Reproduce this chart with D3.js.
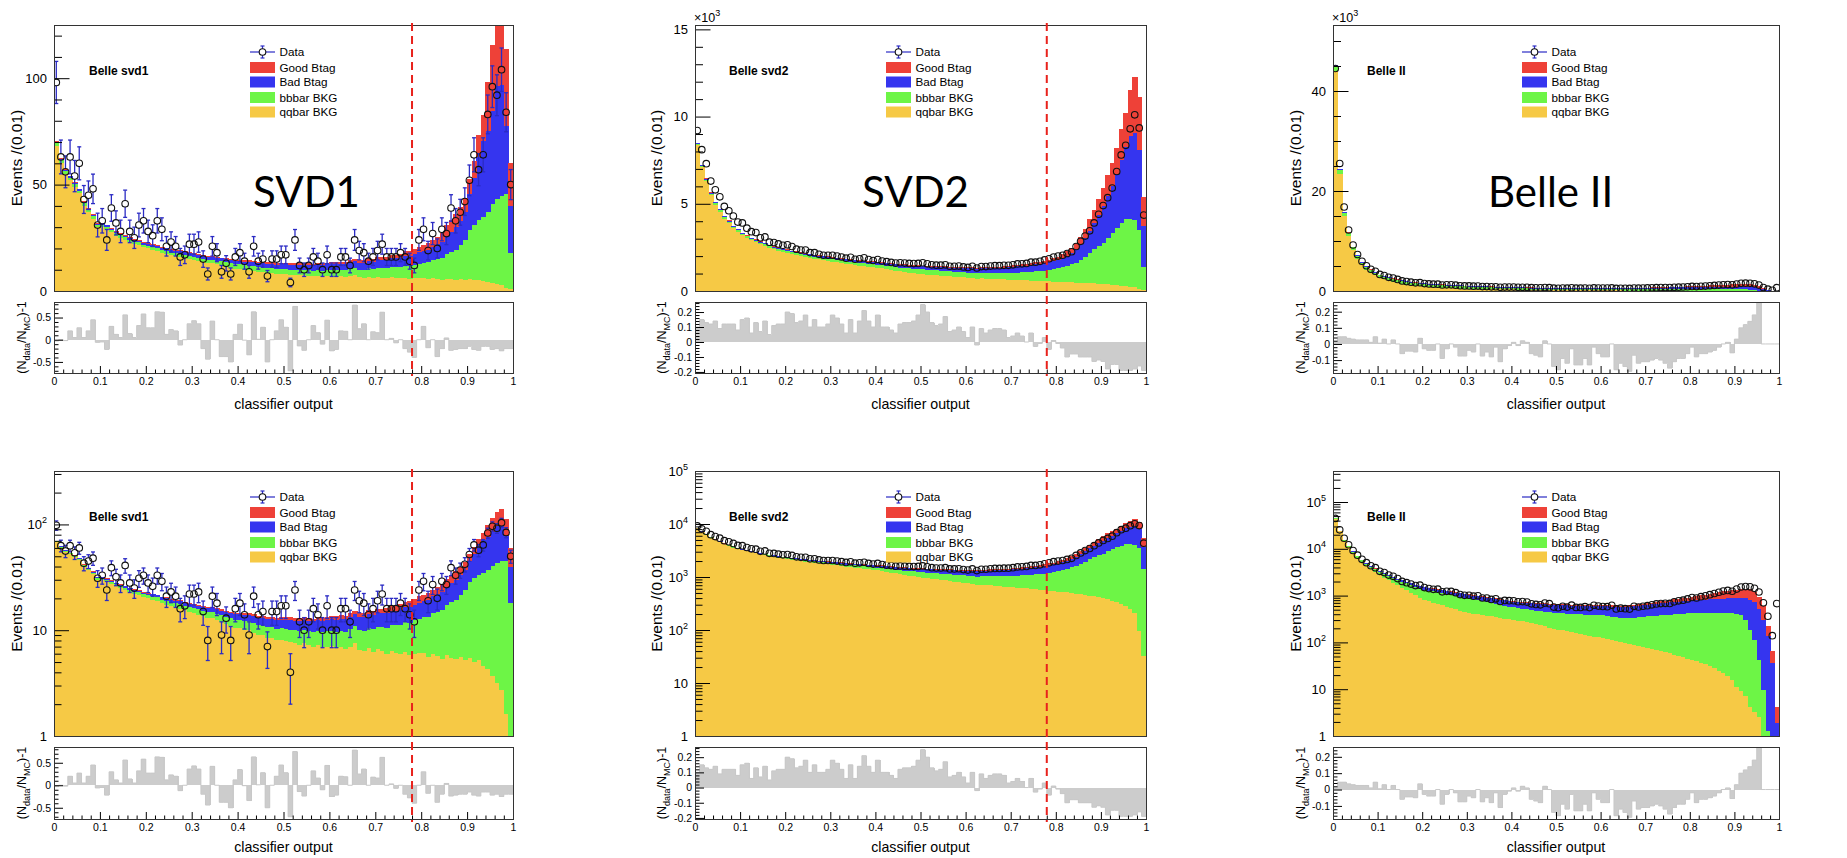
<!DOCTYPE html>
<html><head><meta charset="utf-8">
<script src="https://cdn.jsdelivr.net/npm/d3@7"></script>
<style>
body{margin:0;background:#fff}
svg{display:block}
text{font-family:"Liberation Sans",Arial,Helvetica,sans-serif;fill:#000}
</style>
</head><body>
<svg id="c" width="1847" height="858"></svg>
<script>
// ---------------- DATA ----------------
// bins: 100 bins of width 0.01 on classifier output [0,1]
const binLow = d3.range(100).map(i => i / 100);
const xTickValues = [0,0.1,0.2,0.3,0.4,0.5,0.6,0.7,0.8,0.9,1];
const cutValue = 0.78;
const legendLabels = ["Data","Good Btag","Bad Btag","bbbar BKG","qqbar BKG"];

// ---- Belle svd1 ----
const qq1 = [68,60,55,52,49,46,40,37,34,30,
30,29,27.5,26,25,24,23,22,21.5,20.5,
20,19.5,19,18,17.5,17,16.5,16,15.5,15,
14.5,14,13.5,13,13,12.5,12,11.5,11,10.5,
10.5,10,10,9.5,9,9,8.5,8.5,8,8,
7.9,7.7,7.5,7.3,7.5,7.2,7.0,7.2,6.9,7.0,
7.1,6.8,6.9,6.6,7.0,7.6,6.5,6.3,6.8,6.2,
6.6,6.3,6.0,6.4,6.1,5.9,6.2,5.8,6.0,6.1,
6.1,5.6,5.9,5.7,5.4,5.8,5.5,5.3,5.6,5.2,
5.5,5.0,5.2,4.6,4.3,3.7,3.2,2.7,1.6,1.0];
const bb1 = [1.5,1.4,1.3,1.3,1.2,1.2,1.2,1.1,1.1,1.1,
1.1,1.1,1.1,1.1,1.2,1.2,1.2,1.2,1.3,1.3,
1.3,1.4,1.4,1.4,1.5,1.5,1.5,1.6,1.6,1.6,
1.7,1.7,1.7,1.8,1.8,1.8,1.9,1.9,2.0,2.0,
2.0,2.1,2.1,2.2,2.2,2.2,2.3,2.3,2.3,2.4,
2.4,2.4,2.5,2.5,2.5,2.6,2.6,2.7,2.7,2.8,
2.8,2.9,3.0,3.1,3.2,3.3,3.5,3.6,3.8,4.0,
4.2,4.4,4.6,4.9,5.1,5.4,5.7,6.0,6.4,6.8,
7.2,7.8,8.5,9.3,10.2,11.5,12.8,14.2,16,19,
23,26,28,30,33,37,40,42,44,17];
const bad1 = [0.6,0.6,0.6,0.6,0.6,0.6,0.6,0.6,0.6,0.6,
0.7,0.7,0.7,0.7,0.7,0.8,0.8,0.8,0.8,0.8,
0.9,0.9,0.9,1.0,1.0,1.0,1.0,1.1,1.1,1.1,
1.2,1.2,1.2,1.3,1.3,1.4,1.4,1.5,1.5,1.6,
1.6,1.7,1.7,1.8,1.8,1.9,2.0,2.0,2.1,2.2,
2.2,2.3,2.3,2.4,2.4,2.5,2.5,2.6,2.7,2.7,
2.8,2.9,2.9,3.0,3.1,3.2,3.3,3.4,3.5,3.6,
3.7,3.8,3.9,4.0,4.1,4.3,4.5,4.7,4.9,5.2,
5.5,6.0,6.5,7.0,7.5,8.5,9.5,10.5,11.5,13,
17,22,30,36,38,44,53,52,32,22];
const good1 = [0.3,0.3,0.3,0.3,0.3,0.3,0.3,0.3,0.3,0.3,
0.3,0.3,0.3,0.3,0.3,0.3,0.3,0.3,0.3,0.3,
0.4,0.4,0.4,0.4,0.4,0.4,0.4,0.4,0.4,0.4,
0.4,0.4,0.4,0.4,0.4,0.4,0.4,0.4,0.4,0.4,
0.6,0.6,0.6,0.6,0.6,0.6,0.6,0.6,0.6,0.6,
0.8,0.8,0.8,0.8,0.8,0.8,0.8,0.8,0.8,0.8,
0.9,0.9,1.0,1.0,1.1,1.1,1.2,1.2,1.3,1.3,
1.4,1.5,1.6,1.7,1.8,2.0,2.2,2.4,2.6,2.8,
2.8,3.0,3.3,3.6,4.0,5.0,5.5,6.0,6.5,6.5,
7,8,10,12,23,31,34,42,36,20];
const data1 = [98,63,56,63,54,60,43,45,48,31,
33,24,39,32,28,41,28,25,31,33,
28,26,33,29,21,23,21,16,17,22,
22,23,15,8,21,18,9,13,8,16,
18,14,9,21,14,15,7,15,15,17,
17,4,24,12,10,12,16,14,10,17,
10,10,16,16,12,24,19,18,14,16,
19,22,16,16,16,18,16,14,12,24,
29,19,27,20,29,27,39,33,37,42,
52,64,57,64,83,96,92,104,84,50];
const ratio1 = [-0.03,0.0,-0.02,0.2,0.05,0.27,0.05,0.2,0.45,-0.06,
-0.05,-0.22,0.3,0.12,0.05,0.56,0.14,0.05,0.32,0.58,
0.27,0.27,0.63,0.62,0.12,0.23,0.2,-0.12,0.0,0.36,
0.43,0.36,-0.2,-0.44,0.42,0.0,-0.38,-0.38,-0.5,0.12,
0.35,-0.01,-0.34,0.63,0.01,0.28,-0.5,0.0,0.2,0.45,
0.28,-0.7,0.75,-0.14,-0.24,0.0,0.32,0.16,-0.1,0.44,
-0.25,-0.22,0.2,0.19,0.0,0.78,0.25,0.36,0.0,0.18,
0.16,0.62,0.0,0.03,-0.07,0.0,-0.2,-0.28,-0.4,0.0,
0.3,-0.18,0.0,-0.38,-0.2,0.04,-0.24,-0.22,-0.2,-0.2,
-0.15,-0.22,-0.24,-0.15,-0.15,-0.22,-0.2,-0.25,-0.2,-0.2];

// ---- Belle svd2 ----
const qq2 = [8350,7100,6300,5500,4950,4550,4150,3900,3600,3400,
3200,3050,2900,2800,2680,2580,2480,2400,2320,2250,
2180,2120,2060,2000,1950,1900,1850,1810,1770,1730,
1690,1650,1610,1570,1530,1490,1450,1420,1390,1360,
1330,1290,1250,1210,1170,1130,1100,1060,1030,1000,
970,940,920,900,880,860,840,820,800,780,
760,750,710,720,710,700,690,670,660,650,
640,630,620,610,600,590,570,560,550,540,
530,520,510,500,480,470,460,440,430,420,
400,380,360,340,310,280,250,210,95,32];
const bb2 = [80,80,80,80,80,80,80,80,80,80,
80,80,80,90,90,90,90,90,100,100,
100,100,110,110,110,120,120,120,130,130,
130,140,140,150,150,160,160,170,170,180,
180,190,190,200,210,210,220,230,240,250,
270,270,280,280,280,290,290,290,300,300,
300,310,310,320,330,340,350,360,370,390,
410,430,450,470,500,530,560,600,650,700,
760,830,920,1020,1150,1300,1500,1720,1950,2150,
2350,2650,2950,3300,3600,3850,3900,3850,3400,1360];
const bad2 = [50,50,50,50,50,50,50,50,50,50,
50,50,50,50,50,60,60,60,60,60,
70,70,70,70,80,80,80,80,90,90,
90,100,100,100,110,110,120,120,120,130,
130,140,140,150,150,160,160,170,170,180,
180,190,190,200,200,210,210,220,220,230,
240,240,250,260,270,280,290,300,310,320,
340,350,360,380,390,410,430,450,470,490,
500,550,600,680,780,920,1100,1300,1500,1800,
2100,2400,2700,3060,3600,4100,4720,4970,4580,2350];
const good2 = [20,20,20,20,20,20,20,20,20,20,
20,20,20,20,20,20,20,20,20,20,
30,30,30,30,30,30,30,30,30,30,
30,30,30,30,30,30,30,30,30,30,
40,40,40,40,40,40,40,40,40,40,
40,40,45,45,45,45,50,50,50,50,
50,50,60,60,60,70,70,70,80,80,
80,90,90,100,100,110,110,120,130,140,
180,210,240,280,340,420,520,640,780,920,
1050,1200,1350,1520,1750,2000,2660,3240,3020,1620];
const data2 = [9200,8100,7300,6300,5800,5400,4850,4600,4300,3950,
3900,3600,3400,3350,3050,3100,2800,2780,2700,2620,
2650,2550,2400,2350,2350,2200,2200,2100,2050,2050,
2050,2000,1950,1880,1930,1820,1850,1900,1800,1750,
1800,1720,1680,1640,1600,1620,1600,1580,1570,1580,
1620,1560,1500,1480,1480,1500,1420,1420,1430,1380,
1350,1420,1320,1400,1400,1430,1450,1450,1470,1470,
1500,1550,1560,1580,1650,1650,1700,1780,1850,1950,
2000,2050,2150,2250,2550,2850,3150,3450,3900,4400,
4900,5350,5900,6850,7800,8350,9300,10100,9350,4350];
const ratio2 = [0.1,0.15,0.13,0.12,0.14,0.09,0.12,0.12,0.12,0.08,
0.15,0.16,0.06,0.13,0.07,0.14,0.05,0.11,0.12,0.12,
0.2,0.19,0.13,0.14,0.18,0.1,0.15,0.1,0.1,0.12,
0.18,0.16,0.12,0.06,0.15,0.06,0.14,0.21,0.14,0.1,
0.18,0.1,0.1,0.08,0.06,0.12,0.13,0.13,0.14,0.18,
0.25,0.2,0.13,0.11,0.12,0.17,0.07,0.08,0.1,0.07,
0.03,0.1,-0.02,0.09,0.06,0.08,0.09,0.09,0.08,0.03,
0.04,0.06,0.04,0.0,0.06,-0.03,-0.01,0.03,-0.05,0.01,
-0.01,-0.04,-0.1,-0.08,-0.08,-0.1,-0.1,-0.1,-0.13,-0.12,
-0.13,-0.18,-0.15,-0.15,-0.19,-0.19,-0.19,-0.18,-0.16,-0.19];

// ---- Belle II ----
const qq3 = [44000,23500,15000,11000,8200,6500,5200,4300,3700,3200,
2700,2400,2120,1880,1660,1470,1300,1150,1020,910,
820,760,710,665,620,580,545,510,480,450,
424,410,397,383,370,358,346,335,322,312,
306,292,280,268,256,244,232,220,208,197,
187,180,172,165,158,152,145,139,133,128,
124,118,112,107,102,97,92,88,83,79,
75,71,68,65,62,58,55,52,48,45,
42,40,37,34,31,28,25,22,19,16,
11,9,7,4.2,3.2,2.6,0,0,0,0];
const bb3 = [900,700,600,560,530,510,500,490,480,470,
460,470,480,490,500,510,520,525,530,530,
530,525,520,515,510,500,490,480,470,460,
450,430,410,390,370,350,330,310,290,270,
255,245,240,238,236,236,236,236,237,237,
237,238,240,242,244,246,248,250,252,254,
256,250,245,240,236,233,240,250,260,272,
285,295,305,315,325,335,345,355,365,372,
378,382,386,390,393,396,398,400,401,401,
399,380,299,183,111,39,9.7,1.3,0,0];
const bad3 = [300,200,160,140,130,125,120,118,116,115,
115,118,120,125,130,135,140,145,150,155,
160,165,168,170,170,170,168,166,164,162,
160,160,162,164,166,168,170,172,175,178,
180,182,184,186,188,190,192,194,196,198,
200,202,204,206,208,210,212,214,216,218,
220,224,228,232,236,240,246,252,258,264,
270,280,290,300,310,320,330,340,350,360,
370,380,390,400,410,420,430,440,450,465,
480,520,580,636,600,480,296,134,36,1.9];
const good3 = [80,50,40,35,30,28,26,25,24,23,
22,22,22,22,22,22,22,22,22,22,
22,22,23,23,23,23,24,24,24,24,
25,25,25,25,25,26,26,26,26,26,
27,27,27,28,28,28,29,29,30,30,
31,31,32,32,33,33,34,34,35,35,
36,37,38,39,40,42,44,46,48,50,
55,60,66,72,80,88,96,105,115,125,
140,165,195,230,270,310,350,385,410,430,
450,480,510,530,500,425,284,86,28,2.3];
const data3 = [44500,25500,16800,12200,9200,7300,5950,5050,4350,3950,
3310,3100,2740,2580,2310,2010,1890,1760,1635,1675,
1485,1413,1364,1373,1204,1235,1227,1156,1053,1014,
1017,974,994,890,884,830,855,750,789,778,
776,739,746,727,666,649,634,693,671,569,
550,592,570,626,559,558,581,554,623,597,
585,579,623,519,540,526,516,591,571,592,
610,635,663,677,684,681,735,775,799,848,
911,890,948,991,1049,1108,1179,1247,1293,1240,
1380,1528,1563,1542,1433,1193,700,362,139,675];
const ratio3 = [0.01,0.045,0.045,0.035,0.03,0.025,0.025,0.025,0.01,0.045,
0.005,0.03,0.0,0.025,0.0,-0.06,-0.045,-0.045,-0.05,0.035,
-0.03,-0.04,-0.04,0.0,-0.09,-0.03,0.0,-0.02,-0.075,-0.075,
-0.04,-0.05,0.0,-0.075,-0.05,-0.08,-0.02,-0.11,-0.03,-0.01,
0.01,-0.01,0.02,0.01,-0.06,-0.07,-0.08,0.02,0.0,-0.14,
-0.16,-0.09,-0.12,-0.03,-0.13,-0.13,-0.09,-0.13,-0.02,-0.06,
-0.08,-0.08,0.0,-0.16,-0.12,-0.14,-0.17,-0.07,-0.12,-0.11,
-0.11,-0.1,-0.09,-0.1,-0.12,-0.15,-0.11,-0.09,-0.09,-0.06,
-0.02,-0.08,-0.06,-0.06,-0.05,-0.04,-0.02,0.0,0.01,-0.055,
0.03,0.1,0.12,0.14,0.18,0.26,0,0,0,0];

// tick values
const linMajor1 = [0,50,100], linMajor2 = [0,5000,10000,15000], linMajor3 = [0,20000,40000];
const ratMajor1 = [-0.5,0,0.5], ratMajor2 = [-0.2,-0.1,0,0.1,0.2], ratMajor3 = [-0.1,0,0.1,0.2];

// ---------------- LAYOUT / STYLE ----------------
const COLORS = {good:'#ee4138', bad:'#3535ef', bb:'#6df546', qq:'#f6c945'};
const ERR = '#2b2bc4';
const cols = [
  {x0:54, x1:513, leg:250, belle:89, big:253, ytx:21.5, rtx:26},
  {x0:695, x1:1146, leg:886, belle:729, big:862, ytx:661.5, rtx:666},
  {x0:1333, x1:1779, leg:1522, belle:1367, big:1488, ytx:1301, rtx:1305}
];
const rows = [
  {m0:25, m1:291, r0:302, r1:373, log:false},
  {m0:471, m1:736, r0:747, r1:819, log:true}
];
const sets = [
  {label:'Belle svd1', big:'SVD1', qq:qq1, bb:bb1, bad:bad1, good:good1, data:data1, ratio:ratio1, cut:true,
   linMax:125, linMajor:linMajor1, linMinor:d3.range(0,126,10), linFmt:d=>String(d), x10:false,
   logMax:320, rMin:-0.75, rMax:0.85, rMajor:ratMajor1, rMinor:d3.range(-0.7,0.85,0.1)},
  {label:'Belle svd2', big:'SVD2', qq:qq2, bb:bb2, bad:bad2, good:good2, data:data2, ratio:ratio2, cut:true,
   linMax:15250, linMajor:linMajor2, linMinor:d3.range(0,15300,1000), linFmt:d=>String(d/1000), x10:true,
   logMax:1e5, rMin:-0.207, rMax:0.267, rMajor:ratMajor2, rMinor:d3.range(-0.2,0.27,0.02)},
  {label:'Belle II', big:'Belle II', qq:qq3, bb:bb3, bad:bad3, good:good3, data:data3, ratio:ratio3, cut:false,
   linMax:53200, linMajor:linMajor3, linMinor:d3.range(0,53300,5000), linFmt:d=>String(d/1000), x10:true,
   logMax:4.6e5, rMin:-0.18, rMax:0.26, rMajor:ratMajor3, rMinor:d3.range(-0.18,0.27,0.02)}
];

const svg = d3.select('#c');
const defs = svg.append('defs');
let clipN = 0;
function clip(x, y, w, h) {
  const id = 'cp' + (clipN++);
  defs.append('clipPath').attr('id', id).append('rect').attr('x', x).attr('y', y).attr('width', w).attr('height', h);
  return `url(#${id})`;
}
function styleAxis(g, fs) {
  g.select('.domain').remove();
  g.selectAll('line').attr('stroke', '#000').attr('stroke-width', 1);
  g.selectAll('text').attr('font-size', fs).attr('fill', '#000')
    .attr('font-family', '"Liberation Sans",Arial,Helvetica,sans-serif');
}

function drawPanel(ds, c, r, showBig) {
  const x = d3.scaleLinear().domain([0, 1]).range([c.x0, c.x1]);
  const y = r.log
    ? d3.scaleLog().domain([1, ds.logMax]).range([r.m1, r.m0])
    : d3.scaleLinear().domain([0, ds.linMax]).range([r.m1, r.m0]);
  const ymin = y.domain()[0];
  const bw = x(0.01) - x(0);

  // stacked histograms
  const g = svg.append('g').attr('clip-path', clip(c.x0, r.m0, c.x1 - c.x0, r.m1 - r.m0));
  const table = binLow.map((b, i) => ({b, qq: ds.qq[i], bb: ds.bb[i], bad: ds.bad[i], good: ds.good[i]}));
  const series = d3.stack().keys(['qq', 'bb', 'bad', 'good'])(table);
  series.forEach(s => {
    g.append('g').attr('fill', COLORS[s.key]).attr('shape-rendering', 'crispEdges')
      .selectAll('rect').data(s.filter(d => d[1] > d[0] && d[1] > ymin)).join('rect')
      .attr('x', d => x(d.data.b)).attr('width', bw + 0.6)
      .attr('y', d => y(d[1]))
      .attr('height', d => y(Math.max(d[0], ymin)) - y(d[1]));
  });

  // data points with error bars
  const R = 3.3;
  const pts = binLow.map((b, i) => ({b, n: ds.data[i]})).filter(d => d.n > ymin);
  const eg = g.append('g').attr('stroke', ERR).attr('stroke-width', 1.3).attr('fill', 'none');
  pts.forEach(d => {
    const cx = x(d.b + 0.005), cy = y(d.n);
    const e = Math.sqrt(d.n);
    const yl = y(Math.max(d.n - e, ymin)), yh = y(d.n + e);
    if (yl - cy > R + 0.5) {
      eg.append('line').attr('x1', cx).attr('x2', cx).attr('y1', cy + R).attr('y2', yl);
      eg.append('line').attr('x1', cx - 2).attr('x2', cx + 2).attr('y1', yl).attr('y2', yl);
    }
    if (cy - yh > R + 0.5) {
      eg.append('line').attr('x1', cx).attr('x2', cx).attr('y1', cy - R).attr('y2', yh);
      eg.append('line').attr('x1', cx - 2).attr('x2', cx + 2).attr('y1', yh).attr('y2', yh);
    }
  });
  g.append('g').selectAll('circle').data(pts).join('circle')
    .attr('cx', d => x(d.b + 0.005)).attr('cy', d => y(d.n)).attr('r', R)
    .attr('fill', 'none').attr('stroke', '#111').attr('stroke-width', 1.1);

  // y axis
  if (r.log) {
    const ticks = y.ticks();
    const major = ticks.filter(t => Math.abs(Math.log10(t) - Math.round(Math.log10(t))) < 1e-9);
    const minor = ticks.filter(t => !major.includes(t));
    const ga = svg.append('g').attr('transform', `translate(${c.x0},0)`)
      .call(d3.axisLeft(y).tickValues(major).tickSize(-15).tickPadding(7));
    styleAxis(ga, 13);
    ga.selectAll('text').each(function(d) {
      const k = Math.round(Math.log10(d));
      const t = d3.select(this);
      if (k === 0) t.text('1');
      else if (k === 1) t.text('10');
      else {
        t.text('');
        t.append('tspan').text('10');
        t.append('tspan').attr('dy', -6).attr('font-size', 9).text(String(k));
      }
    });
    const gm = svg.append('g').attr('transform', `translate(${c.x0},0)`)
      .call(d3.axisLeft(y).tickValues(minor).tickSize(-7.5).tickFormat(''));
    styleAxis(gm, 13);
  } else {
    const ga = svg.append('g').attr('transform', `translate(${c.x0},0)`)
      .call(d3.axisLeft(y).tickValues(ds.linMajor).tickSize(-15.5).tickPadding(7).tickFormat(ds.linFmt));
    styleAxis(ga, 13);
    const gm = svg.append('g').attr('transform', `translate(${c.x0},0)`)
      .call(d3.axisLeft(y).tickValues(ds.linMinor.filter(v => !ds.linMajor.includes(v))).tickSize(-8).tickFormat(''));
    styleAxis(gm, 13);
    if (ds.x10) {
      const t = svg.append('text').attr('x', c.x0 - 1).attr('y', r.m0 - 3).attr('font-size', 12.5);
      t.append('tspan').text('\u00d710');
      t.append('tspan').attr('dy', -6).attr('font-size', 9).text('3');
    }
  }

  // frame
  svg.append('rect').attr('x', c.x0).attr('y', r.m0).attr('width', c.x1 - c.x0).attr('height', r.m1 - r.m0)
    .attr('fill', 'none').attr('stroke', '#333').attr('stroke-width', 1).attr('shape-rendering', 'crispEdges');

  // y title
  svg.append('text').attr('transform', `translate(${c.ytx},${(r.m0 + r.m1) / 2}) rotate(-90)`)
    .attr('text-anchor', 'middle').attr('font-size', 15.5).text('Events /(0.01)');

  // label
  svg.append('text').attr('x', c.belle).attr('y', r.m0 + 50).attr('font-size', 12).attr('font-weight', 'bold').text(ds.label);
  if (showBig) {
    svg.append('text').attr('x', c.big).attr('y', 207).attr('font-size', 42)
      .style('font-family', 'Lato,"Open Sans",sans-serif').text(ds.big);
  }

  // legend
  const lg = svg.append('g');
  const ly = [27, 42.5, 57, 72.5, 87].map(v => r.m0 + v - (r.log ? 1 : 0));
  const lx = c.leg;
  lg.append('line').attr('x1', lx).attr('x2', lx + 25).attr('y1', ly[0]).attr('y2', ly[0]).attr('stroke', ERR).attr('stroke-width', 1.2);
  lg.append('line').attr('x1', lx + 12.5).attr('x2', lx + 12.5).attr('y1', ly[0] - 6).attr('y2', ly[0] + 6).attr('stroke', ERR).attr('stroke-width', 1.2);
  lg.append('line').attr('x1', lx + 10.5).attr('x2', lx + 14.5).attr('y1', ly[0] - 6).attr('y2', ly[0] - 6).attr('stroke', ERR).attr('stroke-width', 1.2);
  lg.append('line').attr('x1', lx + 10.5).attr('x2', lx + 14.5).attr('y1', ly[0] + 6).attr('y2', ly[0] + 6).attr('stroke', ERR).attr('stroke-width', 1.2);
  lg.append('circle').attr('cx', lx + 12.5).attr('cy', ly[0]).attr('r', 3.3).attr('fill', '#fff').attr('stroke', '#111').attr('stroke-width', 1.1);
  ['good', 'bad', 'bb', 'qq'].forEach((k, i) => {
    lg.append('rect').attr('x', lx).attr('y', ly[i + 1] - 5.5).attr('width', 25).attr('height', 11).attr('fill', COLORS[k]);
  });
  legendLabels.forEach((t, i) => {
    lg.append('text').attr('x', lx + 29.5).attr('y', ly[i]).attr('dy', '0.36em').attr('font-size', 11.7).text(t);
  });

  // ratio panel
  const yr = d3.scaleLinear().domain([ds.rMin, ds.rMax]).range([r.r1, r.r0]);
  const rg = svg.append('g').attr('clip-path', clip(c.x0, r.r0, c.x1 - c.x0, r.r1 - r.r0));
  const rdat = binLow.map((b, i) => ({b, v: ds.ratio[i]}));
  rg.append('g').attr('fill', '#cccccc').attr('shape-rendering', 'crispEdges')
    .selectAll('rect').data(rdat).join('rect')
    .attr('x', d => x(d.b)).attr('width', bw + 0.6)
    .attr('y', d => Math.min(yr(d.v), yr(0)))
    .attr('height', d => Math.abs(yr(d.v) - yr(0)));
  const stepPts = rdat.map(d => [d.b, d.v]).concat([[1, rdat[99].v]]);
  rg.append('path').attr('d', d3.line().x(d => x(d[0])).y(d => yr(d[1])).curve(d3.curveStepAfter)(stepPts))
    .attr('fill', 'none').attr('stroke', '#c8c8c8').attr('stroke-width', 1);

  const ra = svg.append('g').attr('transform', `translate(${c.x0},0)`)
    .call(d3.axisLeft(yr).tickValues(ds.rMajor).tickSize(-9).tickPadding(3)
      .tickFormat(d => Math.abs(d) < 1e-9 ? '0' : (d < 0 ? '-' : '') + Math.abs(d).toFixed(1)));
  styleAxis(ra, 10.5);
  const rm = svg.append('g').attr('transform', `translate(${c.x0},0)`)
    .call(d3.axisLeft(yr).tickValues(ds.rMinor.filter(v => !ds.rMajor.some(m => Math.abs(m - v) < 1e-6))).tickSize(-4.5).tickFormat(''));
  styleAxis(rm, 10);

  const xa = svg.append('g').attr('transform', `translate(0,${r.r1})`)
    .call(d3.axisBottom(x).tickValues(xTickValues).tickSize(-7).tickPadding(5)
      .tickFormat(d => d === 0 ? '0' : d === 1 ? '1' : d.toFixed(1)));
  styleAxis(xa, 10.5);
  const xm = svg.append('g').attr('transform', `translate(0,${r.r1})`)
    .call(d3.axisBottom(x).tickValues(d3.range(0.02, 1, 0.02).filter(v => Math.abs(v * 10 - Math.round(v * 10)) > 1e-6)).tickSize(-3.5).tickFormat(''));
  styleAxis(xm, 10);

  svg.append('rect').attr('x', c.x0).attr('y', r.r0).attr('width', c.x1 - c.x0).attr('height', r.r1 - r.r0)
    .attr('fill', 'none').attr('stroke', '#333').attr('stroke-width', 1).attr('shape-rendering', 'crispEdges');

  // ratio title
  const rt = svg.append('text').attr('transform', `translate(${c.rtx},${(r.r0 + r.r1) / 2}) rotate(-90)`)
    .attr('text-anchor', 'middle').attr('font-size', 12.5);
  rt.append('tspan').text('(N');
  rt.append('tspan').attr('dy', 4).attr('font-size', 9).text('data');
  rt.append('tspan').attr('dy', -4).text('/N');
  rt.append('tspan').attr('dy', 4).attr('font-size', 9).text('MC');
  rt.append('tspan').attr('dy', -4).text(')-1');

  // x title
  svg.append('text').attr('x', (c.x0 + c.x1) / 2).attr('y', r.r1 + 36 - (r.log ? 3 : 0)).attr('text-anchor', 'middle')
    .attr('font-size', 14.2).text('classifier output');

  // cut line
  if (ds.cut) {
    svg.append('line').attr('x1', x(cutValue)).attr('x2', x(cutValue))
      .attr('y1', r.m0 - 2).attr('y2', r.r1 + 3)
      .attr('stroke', '#e8221c').attr('stroke-width', 2).attr('stroke-dasharray', '8,5');
  }
}

sets.forEach((ds, i) => {
  drawPanel(ds, cols[i], rows[0], true);
  drawPanel(ds, cols[i], rows[1], false);
});
</script>
</body></html>
